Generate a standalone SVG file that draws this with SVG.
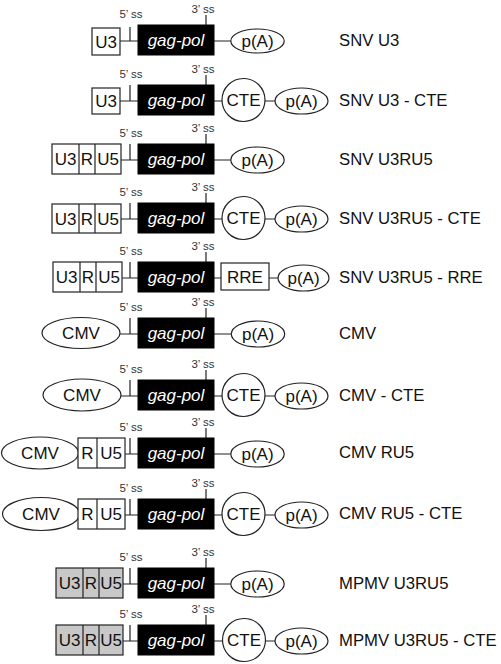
<svg xmlns="http://www.w3.org/2000/svg" width="501" height="664" viewBox="0 0 501 664">
<style>
.bg{fill:#fff}
.b{fill:#fff;stroke:#222;stroke-width:1.2}
.g{fill:#c8c8c8;stroke:#222;stroke-width:1.2}
.k{fill:#000;stroke:#000;stroke-width:1}
.ln{stroke:#222;stroke-width:1.2;fill:none}
text{font-family:"Liberation Sans",Arial,sans-serif;fill:#111}
.t{font-size:17px;text-anchor:middle}
.gp{font-size:17px;text-anchor:middle;fill:#fff;font-style:italic}
.s{font-size:11.5px;text-anchor:middle;fill:#333}
.lb{font-size:16.7px}
</style>
<rect class="bg" x="0" y="0" width="501" height="664"/>
<g id="connectors">
<path class="ln" d="M120 41H138M130 27V41M206 15V25M214 41H230.8"/>
<path class="ln" d="M120 101H138M130 85V101M206 75V85M214 101H222M265 101H275"/>
<path class="ln" d="M121 160H138M130 144V160M206 134V144M214 160H230.8"/>
<path class="ln" d="M121 219H138M130 203V219M206 193V203M214 219H222M265 219H275"/>
<path class="ln" d="M122 278H138M130 262V278M206 252V262M214 278H221M269 278H278"/>
<path class="ln" d="M120 334H138M130 318V334M206 308V318M214 334H231.3"/>
<path class="ln" d="M121 396H138M130 380V396M206 370V380M214 396H222M265 396H275"/>
<path class="ln" d="M125 454H138M130 438V454M206 428V438M214 454H230.8"/>
<path class="ln" d="M125 515H138M130 499V515M206 489V499M214 515H222M265 515H275"/>
<path class="ln" d="M123 584H138M130 568V584M206 558V568M214 584H230.8"/>
<path class="ln" d="M123 641H138M130 625V641M206 615V625M214 641H222.5M265.5 641H275"/>
</g>

<g id="row1">
<g id="r1-u3"><rect class="b" x="92" y="28" width="28" height="27"/><text class="t" x="106" y="47.5">U3</text></g>
<text class="s" x="131" y="18">5’ ss</text>
<g id="r1-gagpol"><rect class="k" x="138" y="25" width="76" height="30"/><text class="gp" x="176" y="46">gag-pol</text></g>
<text class="s" x="203" y="13">3’ ss</text>
<g id="r1-pa"><ellipse class="b" cx="257.5" cy="41" rx="26.7" ry="12"/><text class="t" x="257.5" y="47">p(A)</text></g>
<text class="lb" x="339" y="46">SNV U3</text>
</g>

<g id="row2">
<g id="r2-u3"><rect class="b" x="92" y="88" width="28" height="26"/><text class="t" x="106" y="107">U3</text></g>
<text class="s" x="131" y="78">5’ ss</text>
<g id="r2-gagpol"><rect class="k" x="138" y="85" width="76" height="30"/><text class="gp" x="176" y="106">gag-pol</text></g>
<text class="s" x="203" y="73">3’ ss</text>
<g id="r2-cte"><circle class="b" cx="243.5" cy="100" r="21.5"/><text class="t" x="243.5" y="106">CTE</text></g>
<g id="r2-pa"><ellipse class="b" cx="301.5" cy="101" rx="26.5" ry="13"/><text class="t" x="301.5" y="107">p(A)</text></g>
<text class="lb" x="339" y="106">SNV U3 - CTE</text>
</g>

<g id="row3">
<g id="r3-ltr"><rect class="b" x="52" y="144" width="69" height="30"/><path class="ln" d="M79 144V174M95 144V174"/><text class="t" x="65.5" y="165">U3</text><text class="t" x="87" y="165">R</text><text class="t" x="108" y="165">U5</text></g>
<text class="s" x="131" y="137">5’ ss</text>
<g id="r3-gagpol"><rect class="k" x="138" y="144" width="76" height="30"/><text class="gp" x="176" y="165">gag-pol</text></g>
<text class="s" x="203" y="132">3’ ss</text>
<g id="r3-pa"><ellipse class="b" cx="257.5" cy="160" rx="26.7" ry="13"/><text class="t" x="257.5" y="166">p(A)</text></g>
<text class="lb" x="339" y="165">SNV U3RU5</text>
</g>

<g id="row4">
<g id="r4-ltr"><rect class="b" x="52" y="204" width="69" height="29"/><path class="ln" d="M79 204V233M95 204V233"/><text class="t" x="65.5" y="224.5">U3</text><text class="t" x="87" y="224.5">R</text><text class="t" x="108" y="224.5">U5</text></g>
<text class="s" x="131" y="196">5’ ss</text>
<g id="r4-gagpol"><rect class="k" x="138" y="203" width="76" height="30"/><text class="gp" x="176" y="224">gag-pol</text></g>
<text class="s" x="203" y="191">3’ ss</text>
<g id="r4-cte"><circle class="b" cx="243.5" cy="218" r="21.5"/><text class="t" x="243.5" y="224">CTE</text></g>
<g id="r4-pa"><ellipse class="b" cx="301.5" cy="219" rx="26.5" ry="13"/><text class="t" x="301.5" y="225">p(A)</text></g>
<text class="lb" x="339" y="224">SNV U3RU5 - CTE</text>
</g>

<g id="row5">
<g id="r5-ltr"><rect class="b" x="53" y="262" width="69" height="30"/><path class="ln" d="M80 262V292M96 262V292"/><text class="t" x="66.5" y="283">U3</text><text class="t" x="88" y="283">R</text><text class="t" x="109" y="283">U5</text></g>
<text class="s" x="131" y="255">5’ ss</text>
<g id="r5-gagpol"><rect class="k" x="138" y="262" width="76" height="30"/><text class="gp" x="176" y="283">gag-pol</text></g>
<text class="s" x="203" y="250">3’ ss</text>
<g id="r5-rre"><rect class="b" x="221" y="263" width="48" height="27"/><text class="t" x="245" y="283">RRE</text></g>
<g id="r5-pa"><ellipse class="b" cx="303.5" cy="278" rx="25.5" ry="13"/><text class="t" x="303.5" y="284">p(A)</text></g>
<text class="lb" x="339" y="283">SNV U3RU5 - RRE</text>
</g>

<g id="row6">
<g id="r6-cmv"><ellipse class="b" cx="81" cy="333" rx="39" ry="15.5"/><text class="t" x="81" y="339">CMV</text></g>
<text class="s" x="131" y="311">5’ ss</text>
<g id="r6-gagpol"><rect class="k" x="138" y="318" width="76" height="30"/><text class="gp" x="176" y="339">gag-pol</text></g>
<text class="s" x="203" y="306">3’ ss</text>
<g id="r6-pa"><ellipse class="b" cx="258" cy="334" rx="26.7" ry="13"/><text class="t" x="258" y="340">p(A)</text></g>
<text class="lb" x="339" y="339">CMV</text>
</g>

<g id="row7">
<g id="r7-cmv"><ellipse class="b" cx="82" cy="395" rx="39" ry="16"/><text class="t" x="82" y="401">CMV</text></g>
<text class="s" x="131" y="373">5’ ss</text>
<g id="r7-gagpol"><rect class="k" x="138" y="380" width="76" height="30"/><text class="gp" x="176" y="401">gag-pol</text></g>
<text class="s" x="203" y="368">3’ ss</text>
<g id="r7-cte"><circle class="b" cx="243.5" cy="395" r="21.5"/><text class="t" x="243.5" y="401">CTE</text></g>
<g id="r7-pa"><ellipse class="b" cx="301.5" cy="396" rx="26.5" ry="13"/><text class="t" x="301.5" y="402">p(A)</text></g>
<text class="lb" x="339" y="401">CMV - CTE</text>
</g>

<g id="row8">
<g id="r8-cmv"><ellipse class="b" cx="40" cy="453" rx="38.5" ry="16"/><text class="t" x="40" y="459">CMV</text></g>
<g id="r8-ru5"><rect class="b" x="78" y="438" width="47" height="30"/><path class="ln" d="M97 438V468"/><text class="t" x="87.5" y="459">R</text><text class="t" x="111" y="459">U5</text></g>
<text class="s" x="131" y="431">5’ ss</text>
<g id="r8-gagpol"><rect class="k" x="138" y="438" width="76" height="30"/><text class="gp" x="176" y="459">gag-pol</text></g>
<text class="s" x="203" y="426">3’ ss</text>
<g id="r8-pa"><ellipse class="b" cx="257.5" cy="454" rx="26.7" ry="13"/><text class="t" x="257.5" y="460">p(A)</text></g>
<text class="lb" x="339" y="458">CMV RU5</text>
</g>

<g id="row9">
<g id="r9-cmv"><ellipse class="b" cx="41" cy="514" rx="38.5" ry="16.5"/><text class="t" x="41" y="520">CMV</text></g>
<g id="r9-ru5"><rect class="b" x="78" y="499" width="47" height="30"/><path class="ln" d="M97 499V529"/><text class="t" x="87.5" y="520">R</text><text class="t" x="111" y="520">U5</text></g>
<text class="s" x="131" y="492">5’ ss</text>
<g id="r9-gagpol"><rect class="k" x="138" y="499" width="76" height="30"/><text class="gp" x="176" y="520">gag-pol</text></g>
<text class="s" x="203" y="487">3’ ss</text>
<g id="r9-cte"><circle class="b" cx="243.5" cy="514" r="21.5"/><text class="t" x="243.5" y="520">CTE</text></g>
<g id="r9-pa"><ellipse class="b" cx="301.5" cy="515" rx="26.5" ry="13"/><text class="t" x="301.5" y="521">p(A)</text></g>
<text class="lb" x="339" y="519">CMV RU5 - CTE</text>
</g>

<g id="row10">
<g id="r10-ltr"><rect class="g" x="56" y="568" width="67" height="30"/><path class="ln" d="M83 568V598M99 568V598"/><text class="t" x="69.5" y="589">U3</text><text class="t" x="91" y="589">R</text><text class="t" x="111" y="589">U5</text></g>
<text class="s" x="131" y="561">5’ ss</text>
<g id="r10-gagpol"><rect class="k" x="138" y="568" width="76" height="30"/><text class="gp" x="176" y="589">gag-pol</text></g>
<text class="s" x="203" y="556">3’ ss</text>
<g id="r10-pa"><ellipse class="b" cx="257.5" cy="584" rx="26.7" ry="13"/><text class="t" x="257.5" y="590">p(A)</text></g>
<text class="lb" x="339" y="589">MPMV U3RU5</text>
</g>

<g id="row11">
<g id="r11-ltr"><rect class="g" x="56" y="625" width="67" height="30"/><path class="ln" d="M83 625V655M99 625V655"/><text class="t" x="69.5" y="646">U3</text><text class="t" x="91" y="646">R</text><text class="t" x="111" y="646">U5</text></g>
<text class="s" x="131" y="618">5’ ss</text>
<g id="r11-gagpol"><rect class="k" x="138" y="625" width="76" height="30"/><text class="gp" x="176" y="646">gag-pol</text></g>
<text class="s" x="203" y="613">3’ ss</text>
<g id="r11-cte"><circle class="b" cx="244" cy="640" r="21.5"/><text class="t" x="244" y="646">CTE</text></g>
<g id="r11-pa"><ellipse class="b" cx="301.5" cy="641" rx="26.5" ry="13"/><text class="t" x="301.5" y="647">p(A)</text></g>
<text class="lb" x="339" y="646">MPMV U3RU5 - CTE</text>
</g>
</svg>
